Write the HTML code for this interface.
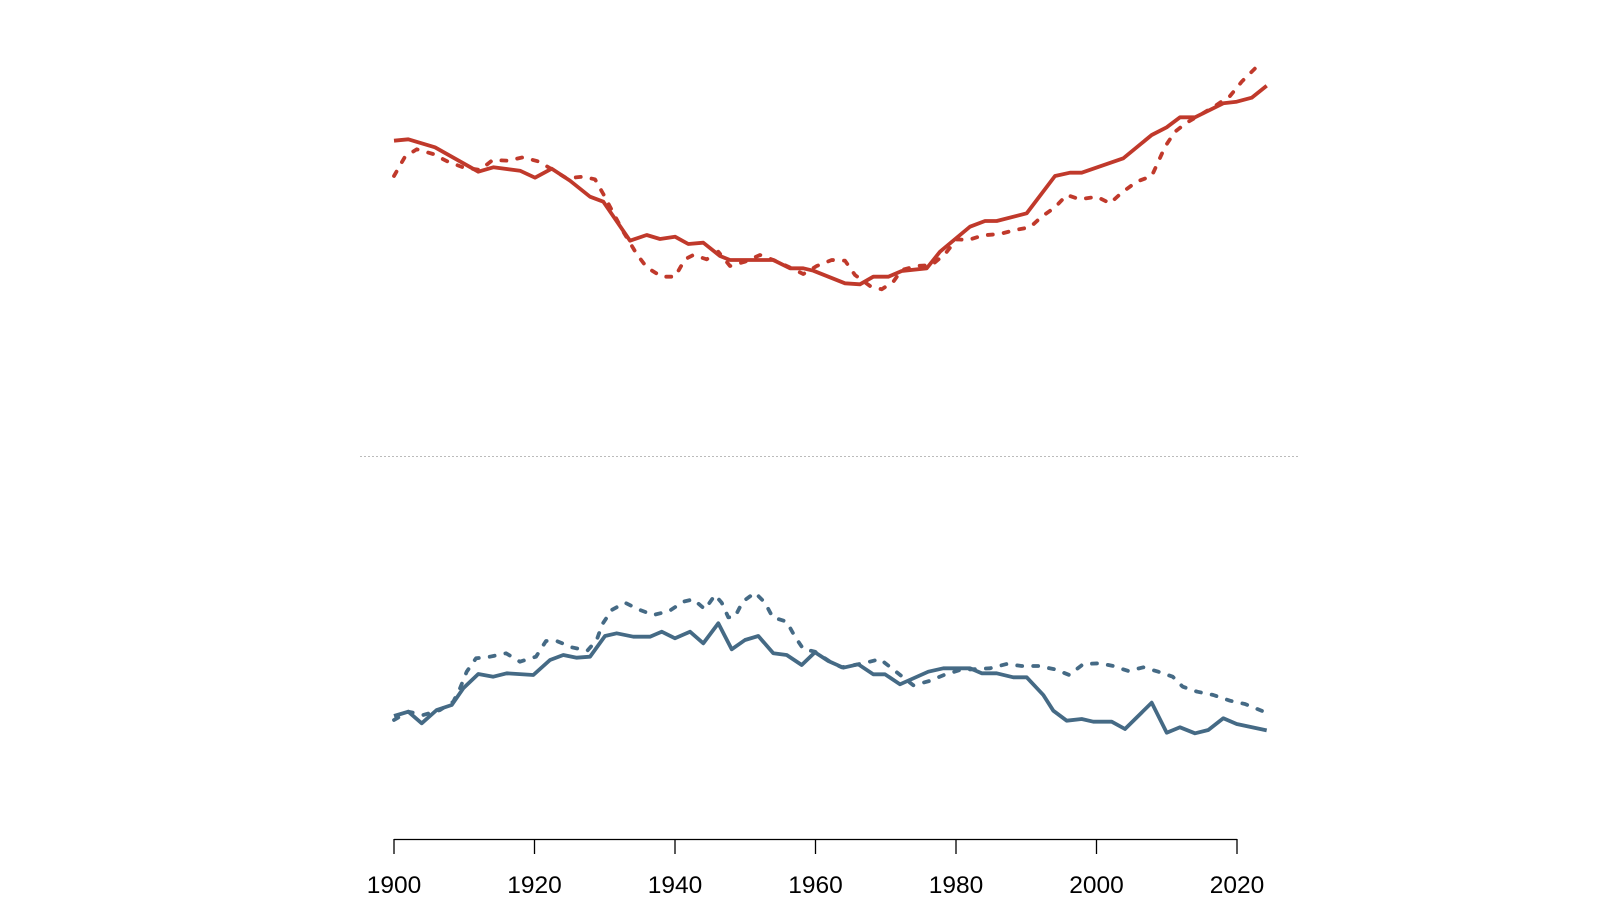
<!DOCTYPE html>
<html><head><meta charset="utf-8"><style>
html,body{margin:0;padding:0;background:#fff;}
svg{display:block;}
text{font-family:"Liberation Sans",Arial,sans-serif;font-size:24.5px;fill:#000;}
</style></head><body>
<svg width="1600" height="900" viewBox="0 0 1600 900">
<line x1="360" y1="456.5" x2="1300" y2="456.5" stroke="#bbb" stroke-width="1" stroke-dasharray="2 2"/>
<g fill="none" stroke-width="3.8" stroke-linejoin="round">
<polyline stroke="#C0392B" stroke-dasharray="5 11" stroke-linecap="round" points="394,176 405,156.7 416.7,149.3 433,154 448,161.7 463,167.3 480,170 492.7,160 508,160.7 523,157.3 539.3,161.7 553,170 566.7,178.3 583,176.7 595,179.3 603.3,194 611.7,210 623.3,231.7 636.7,254 646.7,267.3 661.7,276.7 675,276.7 685,259.3 693.3,255 706.7,259.3 718.3,251.7 730,266 745,261.7 760,255 773.3,260 788.3,266.7 803.3,274 816.7,266 831.7,260 845,260.7 855,275 870,286 881.7,289.3 893.3,281.7 901.7,270 916.7,266 931.7,265 945,254 956.7,239.3 968.3,240 983.3,235.3 1000,234 1015,230 1030,227.3 1041.7,216.7 1055,207.3 1066.7,195 1080,199.3 1096.7,196.7 1110,203.3 1121.7,192.7 1136.7,181.7 1151.7,176 1158.3,161.7 1165,146.7 1175,131.7 1186.7,122.7 1200,115 1215,106 1230,96 1241.7,81.7 1256.5,67"/>
<polyline stroke="#C0392B" points="394,140.7 408.3,139.3 435,147.3 478.3,171.7 493.3,167.3 520,170.7 535,177.7 551.7,168.7 570,180.7 590,196.7 603.3,201.7 630,240.7 646.7,235 660,239 675,236.7 688.3,244 703.3,242.7 720,256 730,260 773.3,260 790,268.3 803.3,268.3 813.3,270.7 845,283.3 860,284.3 873.3,276.7 888.3,276.7 901.7,271 926.7,268.3 940,251.7 970,226.7 985,221 996.7,221 1026.7,213.3 1055,176 1070,172.7 1081.7,172.7 1123.3,158.3 1151.7,135 1166.7,127.3 1180,117.3 1195,117.3 1223.3,103.3 1236.7,101.7 1251.7,97.7 1266.7,85.8"/>
<polyline stroke="#456A85" stroke-dasharray="5 11" stroke-linecap="round" points="394,720 408.3,711.7 423.3,715 440,710 453.3,701.7 460,688.3 466.7,671.7 476,658.3 490,656.7 506,653.3 520,661.7 536,656.7 546,641 556,640.7 571.7,647.3 587.3,650.7 596.7,640 602.3,624.3 611.7,610 625,602.7 640,610 653.3,615 669.3,611 683.3,601.7 693.3,599.3 705,609.3 715,595 721.7,602.7 728.3,617.3 735,616.7 742.7,601.7 755,592.7 765,602.7 772.7,617.3 786.7,621.7 795,636.7 803.3,649 815,651.7 830,661.7 841.7,667.3 865,663 880,659 891.7,668.3 913.3,685.3 929.3,681 944,675 960,670 990,668.3 1006.7,664 1021.7,666 1038.3,666 1055,669.3 1069.3,675 1083.3,664 1100,663.3 1113.3,666 1128.3,671 1143.3,667.3 1158.3,671.7 1172.7,676.7 1182.7,686.7 1197.3,691.7 1213.3,695 1230,700.7 1245,704 1264.6,712"/>
<polyline stroke="#456A85" points="394,716 408.3,711.7 421.7,723.3 436.7,710 451.7,705 463.3,688.3 478.3,674 493.3,676.7 506.7,673.3 533.3,675 550,660 563.3,655 576.7,657.7 590,656.7 605,636 616.7,633.3 633.3,636.7 650,636.7 661.7,631.7 675,638.3 690,631.7 703.3,643.3 718.3,623.3 731.7,649.3 745,640 758.3,636 773.3,653.3 786.7,655 801.7,665 815,652.3 828.3,661 843.3,667.7 858.3,664.3 873.3,674.3 885,674.3 900,684.3 928.3,671.7 943.3,668.3 970,668.3 981.7,673.3 996.7,673.3 1013.3,677.3 1026.7,677.3 1043.3,695 1053.3,710.7 1066.7,720.7 1081.7,719 1093.3,721.7 1111.7,721.7 1125,729 1151.7,702.7 1166.7,732.7 1180,727.3 1195,733.3 1208.3,730 1223.3,718.3 1236.7,724 1266.7,730.4"/>
</g>
<g stroke="#000" stroke-width="1.3">
<line x1="394" y1="839.5" x2="1237" y2="839.5"/>
<line x1="394" y1="839" x2="394" y2="854"/>
<line x1="534.5" y1="839" x2="534.5" y2="854"/>
<line x1="675" y1="839" x2="675" y2="854"/>
<line x1="815.5" y1="839" x2="815.5" y2="854"/>
<line x1="956" y1="839" x2="956" y2="854"/>
<line x1="1096.5" y1="839" x2="1096.5" y2="854"/>
<line x1="1237" y1="839" x2="1237" y2="854"/>
</g>
<g text-anchor="middle">
<text x="394" y="893">1900</text>
<text x="534.5" y="893">1920</text>
<text x="675" y="893">1940</text>
<text x="815.5" y="893">1960</text>
<text x="956" y="893">1980</text>
<text x="1096.5" y="893">2000</text>
<text x="1237" y="893">2020</text>
</g>
</svg>
</body></html>
